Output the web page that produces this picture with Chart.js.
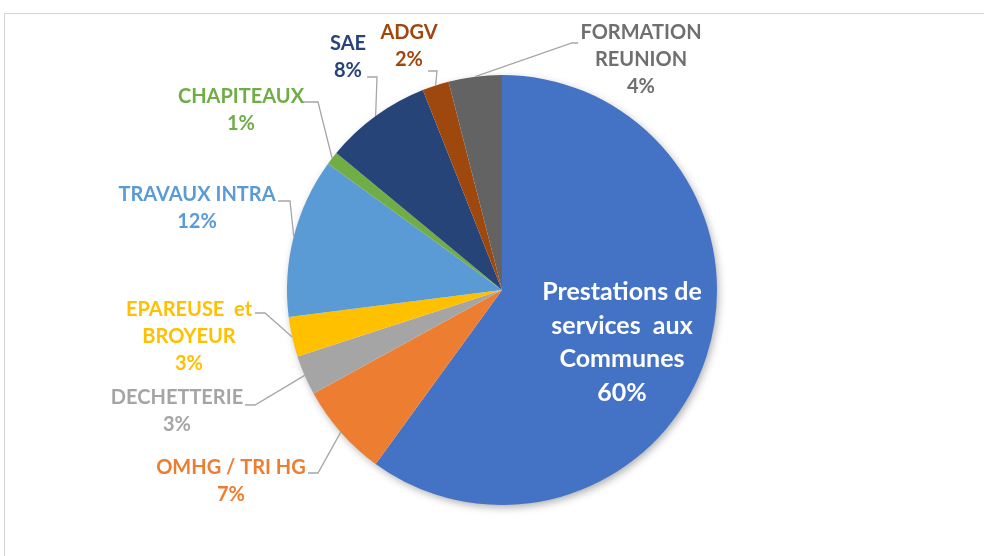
<!DOCTYPE html>
<html>
<head>
<meta charset="utf-8">
<script src="https://cdn.jsdelivr.net/npm/chart.js@4/dist/chart.umd.min.js"></script>
<style>
  html, body { margin: 0; padding: 0; background: #fff; }
  #wrap { position: relative; width: 984px; height: 556px; overflow: hidden; }
  #frame { position: absolute; left: 4px; top: 13px; width: 1000px; height: 600px; border: 1px solid #d6d6d6; box-sizing: border-box; }
  #c { position: absolute; left: 0; top: 0; }
</style>
</head>
<body>
<div id="wrap">
  <div id="frame"></div>
  <canvas id="c" width="984" height="556"></canvas>
</div>
<script>
// Share of activity by service (percent)
const categories = ['Prestations de services  aux Communes', 'OMHG / TRI HG', 'DECHETTERIE', 'EPAREUSE  et BROYEUR', 'TRAVAUX INTRA', 'CHAPITEAUX', 'SAE', 'ADGV', 'FORMATION REUNION'];
const shares = [60, 7, 3, 3, 12, 1, 8, 2, 4];
// How each category name is broken over lines in its label
const labelLines = [
  ['Prestations de', 'services  aux', 'Communes'],
  ['OMHG / TRI HG'],
  ['DECHETTERIE'],
  ['EPAREUSE  et', 'BROYEUR'],
  ['TRAVAUX INTRA'],
  ['CHAPITEAUX'],
  ['SAE'],
  ['ADGV'],
  ['FORMATION', 'REUNION']
];

const sliceColors = ['#4472C4', '#ED7D31', '#A5A5A5', '#FFC000', '#5B9BD5', '#70AD47', '#264478', '#9E480E', '#636363'];
const textColors  = ['#FFFFFF', '#ED7D31', '#A5A5A5', '#FFC000', '#5B9BD5', '#70AD47', '#264478', '#9E480E', '#6F6F6F'];

// Label placement relative to the pie centre: text centre (tx, ty = first line),
// and the short horizontal stub of the leader line (sx1 -> sx2 at sy).
const labelLayout = [
  { inside: true, tx: 120, ty: 2, lh: 33.5, size: 25 },
  { tx: -271, ty: 178, sx1: -194, sx2: -184, sy: 183 },
  { tx: -325, ty: 108, sx1: -257, sx2: -247, sy: 115 },
  { tx: -313, ty: 20,  sx1: -247, sx2: -237, sy: 23 },
  { tx: -305, ty: -95, sx1: -224, sx2: -212, sy: -89 },
  { tx: -261, ty: -193, sx1: -199, sx2: -184, sy: -188 },
  { tx: -154, ty: -246, sx1: -135, sx2: -125, sy: -213 },
  { tx: -93,  ty: -257, sx1: -74,  sx2: -65,  sy: -219 },
  { tx: 139,  ty: -257, sx1: 76,   sx2: 70,   sy: -247 }
];

const FONT = 'Lato, "Open Sans", sans-serif';

const pieShadow = {
  id: 'pieShadow',
  beforeDatasetsDraw(chart) {
    const arc = chart.getDatasetMeta(0).data[0];
    if (!arc) return;
    const ctx = chart.ctx;
    ctx.save();
    ctx.shadowColor = 'rgba(0,0,0,0.35)';
    ctx.shadowBlur = 9;
    ctx.shadowOffsetX = 2;
    ctx.shadowOffsetY = 3;
    ctx.fillStyle = '#ffffff';
    ctx.beginPath();
    ctx.arc(arc.x, arc.y, arc.outerRadius - 1, 0, Math.PI * 2);
    ctx.fill();
    ctx.restore();
  }
};

const sliceLabels = {
  id: 'sliceLabels',
  afterDatasetsDraw(chart) {
    const ctx = chart.ctx;
    const arcs = chart.getDatasetMeta(0).data;
    ctx.save();
    arcs.forEach((arc, i) => {
      const L = labelLayout[i];
      const cx = arc.x, cy = arc.y;
      const lines = labelLines[i].concat([shares[i] + '%']);
      const size = L.size || 20;
      const lh = L.lh || 27;
      if (!L.inside) {
        const mid = (arc.startAngle + arc.endAngle) / 2;
        const ex = cx + Math.cos(mid) * arc.outerRadius;
        const ey = cy + Math.sin(mid) * arc.outerRadius;
        ctx.strokeStyle = '#A6A6A6';
        ctx.lineWidth = 1.3;
        ctx.beginPath();
        ctx.moveTo(cx + L.sx1, cy + L.sy);
        ctx.lineTo(cx + L.sx2, cy + L.sy);
        ctx.lineTo(ex, ey);
        ctx.stroke();
      }
      ctx.fillStyle = textColors[i];
      ctx.font = 'bold ' + size + 'px ' + FONT;
      ctx.textAlign = 'center';
      ctx.textBaseline = 'middle';
      lines.forEach((t, k) => ctx.fillText(t, cx + L.tx, cy + L.ty + k * lh));
    });
    ctx.restore();
  }
};

new Chart(document.getElementById('c'), {
  type: 'pie',
  data: {
    labels: categories,
    datasets: [{
      data: shares,
      backgroundColor: sliceColors,
      borderWidth: 0
    }]
  },
  options: {
    responsive: false,
    animation: false,
    layout: { padding: { left: 287, right: 267, top: 75, bottom: 51 } },
    plugins: {
      legend: { display: false },
      tooltip: { enabled: false }
    }
  },
  plugins: [pieShadow, sliceLabels]
});
</script>
</body>
</html>
